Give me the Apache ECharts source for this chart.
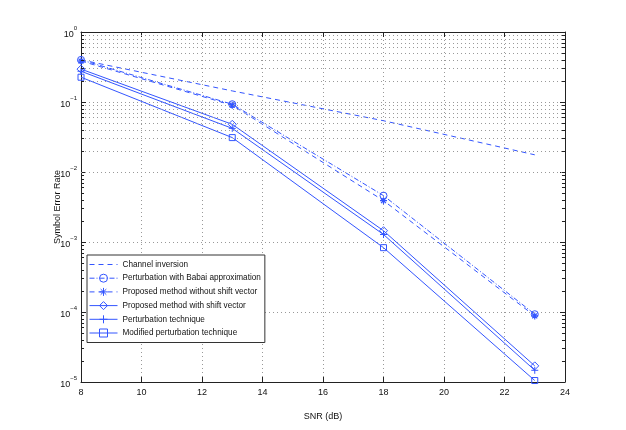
<!DOCTYPE html>
<html>
<head>
<meta charset="utf-8">
<script src="https://cdn.jsdelivr.net/npm/echarts@6/dist/echarts.min.js"></script>
<style>
  html, body { margin: 0; background: #fff; }
  #chart { width: 626px; height: 430px; }
</style>
</head>
<body>
<div id="chart"></div>
<script>
// values
const snr = [8, 13, 18, 23]
const channelInversion = [0.40, 0.144, 0.054, 0.0176]
const babai = [0.40, 0.093, 0.0046, 0.000093]
const noShift = [0.385, 0.090, 0.0039, 0.000088]
const withShift = [0.295, 0.048, 0.00145, 0.000017]
const perturbation = [0.275, 0.042, 0.00128, 0.0000147]
const modified = [0.226, 0.031, 0.00083, 0.0000105]

const seriesNames = [
  'Channel inversion',
  'Perturbation with Babai approximation',
  'Proposed method without shift vector',
  'Proposed method with shift vector',
  'Perturbation technique',
  'Modified perturbation technique'
]

const xTicks = [8, 10, 12, 14, 16, 18, 20, 22, 24]
const decades = [-5, -4, -3, -2, -1]
const minorSteps = [2, 3, 4, 5, 6, 7, 8, 9]

const BLUE = '#3355ff'
const FONT = 'Liberation Sans'

// minor log grid lines (2..9 in each decade)
const minorValues = []
decades.forEach(d => minorSteps.forEach(m => minorValues.push(m * Math.pow(10, d))))

const minorGrid = minorValues.map(v => ({ yAxis: v }))
const minorTicks = []
minorValues.forEach(v => {
  minorTicks.push([{ coord: [xTicks[0], v] }, { coord: [xTicks[0] + 0.1, v] }])
  minorTicks.push([{ coord: [xTicks[xTicks.length - 1] - 0.1, v] }, { coord: [xTicks[xTicks.length - 1], v] }])
})

// hollow marker outlines
const circlePath = 'path://M10,5A5,5 0 1,1 0,5A5,5 0 1,1 10,5Z'
const diamondPath = 'path://M5,0L10,5L5,10L0,5Z'
const squarePath = 'path://M0,0H10V10H0Z'
const plusPath = 'path://M5,0V10M0,5H10'
const starPath = 'path://M5,0V10M0,5H10M1.5,1.5L8.5,8.5M8.5,1.5L1.5,8.5'

function pairs(ys) {
  return snr.map((x, i) => [x, ys[i]])
}

function lineSeries(name, ys, type, symbol, extra) {
  return Object.assign({
    name,
    type: 'line',
    color: BLUE,
    data: pairs(ys),
    symbol,
    symbolSize: 7,
    showSymbol: symbol !== 'none',
    lineStyle: { color: BLUE, width: 1, type },
    itemStyle: { color: 'none', borderColor: BLUE, borderWidth: 1 },
    emphasis: { disabled: true },
    animation: false
  }, extra || {})
}

function supLabel(v) {
  const e = Math.round(Math.log10(v))
  return '{b|10}{e|' + (e < 0 ? '\u2212' + (-e) : e) + '}'
}

const axisLineStyle = { color: '#222', width: 1 }
const gridLine = { show: true, lineStyle: { color: '#999', type: [1, 3], width: 1 } }

const chart = echarts.init(document.getElementById('chart'))
chart.setOption({
  backgroundColor: '#fff',
  textStyle: { fontFamily: FONT },
  grid: { left: 81, right: 61, top: 32, bottom: 48 },
  legend: {
    orient: 'vertical',
    left: 87,
    top: 255,
    padding: [3, 4, 3, 2],
    itemWidth: 28,
    itemHeight: 10,
    itemGap: 0.7,
    backgroundColor: '#fff',
    borderColor: '#333',
    borderWidth: 1,
    borderRadius: 0,
    data: seriesNames.map(name => ({
      name,
      lineStyle: { color: BLUE, width: 1 },
      itemStyle: { color: 'none', borderColor: BLUE, borderWidth: 1 }
    })),
    textStyle: { fontFamily: FONT, fontSize: 8.2, lineHeight: 10, color: '#111' },
    selectedMode: false
  },
  xAxis: [{
    type: 'value',
    min: xTicks[0],
    max: xTicks[xTicks.length - 1],
    interval: 2,
    name: 'SNR (dB)',
    nameLocation: 'middle',
    nameGap: 30,
    nameMoveOverlap: false,
    nameTextStyle: { fontFamily: FONT, fontSize: 9, color: '#111' },
    axisLine: { lineStyle: axisLineStyle },
    axisTick: { inside: true, length: 5, lineStyle: axisLineStyle },
    axisLabel: { fontFamily: FONT, fontSize: 9, color: '#111', margin: 6 },
    splitLine: gridLine
  }, {
    type: 'value',
    position: 'top',
    min: xTicks[0],
    max: xTicks[xTicks.length - 1],
    interval: 2,
    axisLine: { show: true, lineStyle: axisLineStyle },
    axisTick: { show: true, inside: true, length: 5, lineStyle: axisLineStyle },
    axisLabel: { show: false },
    splitLine: { show: false }
  }],
  yAxis: [{
    type: 'log',
    logBase: 10,
    min: 1e-5,
    max: 1,
    name: 'Symbol Error Rate',
    nameLocation: 'middle',
    nameRotate: 90,
    nameGap: 19,
    nameMoveOverlap: false,
    nameTextStyle: { fontFamily: FONT, fontSize: 9, color: '#111' },
    axisLine: { show: true, lineStyle: axisLineStyle },
    axisTick: { show: true, inside: true, length: 5, lineStyle: axisLineStyle },
    axisLabel: {
      formatter: supLabel,
      margin: 4,
      rich: {
        b: { fontFamily: FONT, fontSize: 9, color: '#111', verticalAlign: 'bottom', lineHeight: 14 },
        e: { fontFamily: FONT, fontSize: 6, color: '#111', verticalAlign: 'top', lineHeight: 14 }
      }
    },
    splitLine: gridLine
  }, {
    type: 'log',
    logBase: 10,
    min: 1e-5,
    max: 1,
    position: 'right',
    axisLine: { show: true, lineStyle: axisLineStyle },
    axisTick: { show: true, inside: true, length: 5, lineStyle: axisLineStyle },
    axisLabel: { show: false },
    splitLine: { show: false }
  }],
  series: [
    lineSeries(seriesNames[0], channelInversion, [5, 4], 'none', {
      itemStyle: { color: 'transparent', borderWidth: 0, opacity: 0 },
      markLine: {
        silent: true,
        symbol: 'none',
        label: { show: false },
        animation: false,
        lineStyle: { color: '#999', type: [1, 3], width: 1, opacity: 1 },
        data: minorGrid
      }
    }),
    lineSeries(seriesNames[1], babai, [5, 2, 1, 2], circlePath, {
      markLine: {
        silent: true,
        symbol: 'none',
        label: { show: false },
        animation: false,
        lineStyle: { color: '#222', type: 'solid', width: 1 },
        data: minorTicks
      }
    }),
    lineSeries(seriesNames[2], noShift, [5, 4], starPath, {
      itemStyle: { color: 'none', borderColor: BLUE, borderWidth: 1.2 }
    }),
    lineSeries(seriesNames[3], withShift, 'solid', diamondPath, { symbolSize: 8 }),
    lineSeries(seriesNames[4], perturbation, 'solid', plusPath),
    lineSeries(seriesNames[5], modified, 'solid', squarePath, { symbolSize: 6 })
  ]
})
</script>
</body>
</html>
